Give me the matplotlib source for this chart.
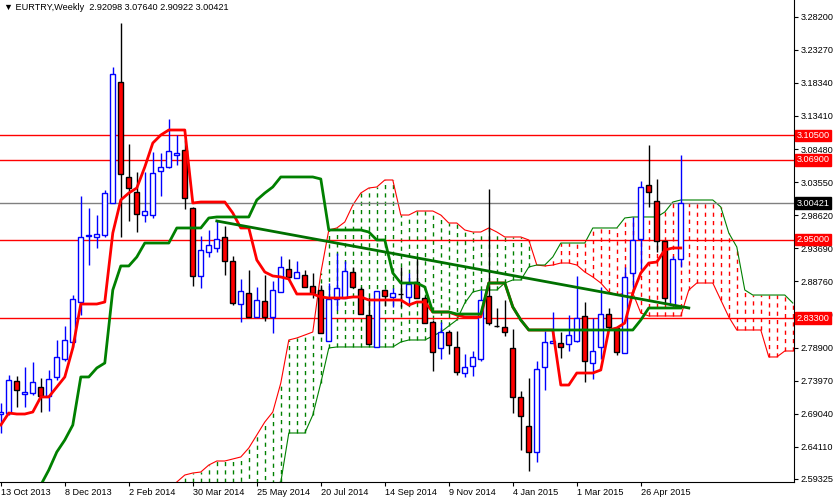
import matplotlib
matplotlib.use("Agg")
import matplotlib.pyplot as plt
import numpy as np

plt.rcParams['font.family'] = ['Liberation Sans', 'DejaVu Sans']

dates = ["13 Oct 2013", "8 Dec 2013", "2 Feb 2014", "30 Mar 2014", "25 May 2014", "20 Jul 2014",
         "14 Sep 2014", "9 Nov 2014", "4 Jan 2015", "1 Mar 2015", "26 Apr 2015"]
yticks = [3.28200, 3.23270, 3.18340, 3.13410, 3.08480, 3.03550, 2.98620, 2.93690, 2.88760,
          2.83830, 2.78900, 2.73970, 2.69040, 2.64110, 2.59325]

opens = [2.6900,2.6915,2.7392,2.7198,2.7213,2.7303,2.7169,2.7452,2.7720,2.7973,2.8569,2.9553,2.9538,2.9567,3.0044,3.1847,3.0432,3.0208,2.9865,2.9865,3.0521,3.0581,3.0759,3.0834,2.9970,2.8957,2.9314,2.9374,2.9538,2.9180,2.8539,2.8703,2.8346,2.8584,2.8346,2.8718,2.9061,2.8927,2.8971,2.8808,2.8748,2.7988,2.8614,2.8629,2.9016,2.8763,2.8375,2.7899,2.8748,2.8644,2.8688,2.8644,2.8867,2.8629,2.8271,2.7884,2.8122,2.7899,2.7511,2.7615,2.7720,2.8659,2.8212,2.8197,2.7884,2.7154,2.6722,2.6334,2.7601,2.7958,2.7958,2.7943,2.7988,2.8361,2.7660,2.7899,2.8390,2.8182,2.7809,2.9001,2.9508,3.0312,3.0074,2.9478,2.8524,2.92098]
highs = [2.7064,2.7481,2.7467,2.7601,2.7675,2.7437,2.7556,2.8003,2.8212,2.8673,3.0149,2.9970,2.9865,3.0238,3.2071,3.2726,3.0923,3.0506,3.0506,3.0804,3.0789,3.1296,3.1057,3.0983,2.9985,2.9553,2.9642,2.9791,2.9702,2.9255,2.8912,2.9046,2.8793,2.8971,2.8882,2.9255,2.9210,2.9180,2.9046,2.9001,2.8822,2.8852,2.9299,2.9180,2.9091,2.8793,2.8644,2.8733,2.8763,2.8778,2.9091,2.9001,2.9225,2.8659,2.8301,2.8271,2.8152,2.8137,2.7794,2.7839,2.8748,3.0253,2.8480,2.8599,2.8167,2.7243,2.7437,2.7690,2.8137,2.8420,2.8122,2.8375,2.8957,2.8569,2.8331,2.8793,2.8480,2.8182,2.9091,2.9836,3.0372,3.0908,3.0402,2.9478,2.9255,3.07640]
lows = [2.6617,2.6885,2.7005,2.7005,2.7183,2.6930,2.6945,2.7407,2.7690,2.7899,2.8375,2.9120,2.9374,2.9538,3.0044,2.9538,2.9776,2.9612,2.9761,2.9821,3.0149,3.0566,3.0610,2.9955,2.8808,2.8778,2.9240,2.9314,2.8971,2.8524,2.8271,2.8346,2.8346,2.8286,2.8107,2.8718,2.8897,2.8927,2.8793,2.8629,2.8107,2.7988,2.8450,2.8629,2.8778,2.8390,2.7943,2.7899,2.8510,2.8495,2.8495,2.8554,2.8629,2.8256,2.7541,2.7720,2.7794,2.7481,2.7452,2.7467,2.7690,2.8226,2.8197,2.8063,2.6915,2.6364,2.6051,2.6185,2.7258,2.7958,2.7735,2.7839,2.7973,2.7377,2.7422,2.7720,2.8152,2.7779,2.7809,2.8703,2.9061,2.9985,2.9314,2.8539,2.8524,2.90922]
closes = [2.6930,2.7407,2.7258,2.7228,2.7377,2.7169,2.7422,2.7750,2.8003,2.8614,2.9538,2.9567,2.9582,3.0193,3.1966,3.0476,3.0268,2.9880,2.9925,3.0491,3.0581,3.0819,3.0789,3.0119,2.8957,2.9344,2.9418,2.9508,2.9180,2.8554,2.8733,2.8346,2.8599,2.8346,2.8748,2.9091,2.8942,2.9016,2.8793,2.8703,2.8107,2.8614,2.8778,2.9031,2.8793,2.8390,2.7943,2.8733,2.8659,2.8703,2.8688,2.8837,2.8629,2.8256,2.7824,2.8122,2.7928,2.7526,2.7601,2.7750,2.8599,2.8256,2.8212,2.8122,2.7154,2.6871,2.6334,2.7571,2.7973,2.7988,2.7899,2.8077,2.8331,2.7690,2.7839,2.8390,2.8197,2.7824,2.8942,2.9493,3.0283,3.0208,2.9478,2.8629,2.92098,3.00421]

tenkan = [2.6736,2.6915,2.6900,2.6900,2.6930,2.7154,2.7154,2.7303,2.7452,2.7884,2.8539,2.8539,2.8539,2.8569,2.9597,3.0089,3.0193,3.0268,3.0581,3.0938,3.1057,3.1132,3.1132,3.1132,3.0044,3.0059,3.0059,3.0059,3.0059,2.9895,2.9672,2.9672,2.9195,2.9016,2.8957,2.8942,2.8912,2.8688,2.8688,2.8688,2.8644,2.8629,2.8629,2.8629,2.8644,2.8644,2.8599,2.8599,2.8599,2.8599,2.8599,2.8524,2.8569,2.8569,2.8420,2.8420,2.8420,2.8375,2.8346,2.8346,2.8346,2.8852,2.8852,2.8852,2.8495,2.8301,2.8152,2.8152,2.8152,2.8152,2.7332,2.7332,2.7511,2.7511,2.7511,2.7556,2.8152,2.8182,2.8256,2.8703,2.9001,2.9150,2.9165,2.9344,2.9374,2.9374]
kijun = [2.50,2.52,2.54,2.56,2.575,2.5842,2.6066,2.6334,2.6513,2.6736,2.7452,2.7452,2.7586,2.7660,2.8748,2.9106,2.9106,2.9240,2.9448,2.9448,2.9448,2.9448,2.9672,2.9672,2.9672,2.9672,2.9821,2.9836,2.9836,2.9836,2.9836,2.9836,3.0089,3.0193,3.0283,3.0432,3.0432,3.0432,3.0432,3.0432,3.0402,2.9642,2.9642,2.9642,2.9642,2.9642,2.9612,2.9493,2.9493,2.9001,2.8852,2.8852,2.8852,2.8793,2.8420,2.8420,2.8420,2.8390,2.8390,2.8390,2.8390,2.8852,2.8852,2.8852,2.8495,2.8301,2.8152,2.8152,2.8152,2.8152,2.8152,2.8152,2.8152,2.8152,2.8152,2.8152,2.8152,2.8152,2.8152,2.8152,2.8301,2.8480,2.8480,2.8480,2.8480,2.8480]

cloud_start = 22
span_b = [2.5887,2.5991,2.6021,2.6036,2.6140,2.6200,2.6200,2.6230,2.6260,2.6394,2.6587,2.6781,2.6930,2.7362,2.8003,2.8033,2.8077,2.8122,2.9001,2.9642,2.9672,2.9761,3.0014,3.0193,3.0268,3.0283,3.0387,3.0387,2.9865,2.9865,2.9925,2.9925,2.9925,2.9865,2.9746,2.9746,2.9642,2.9612,2.9612,2.9672,2.9612,2.9538,2.9538,2.9538,2.9493,2.9120,2.9106,2.9120,2.9150,2.9150,2.9120,2.9016,2.8942,2.8852,2.8718,2.8673,2.8703,2.8703,2.8405,2.8361,2.8361,2.8361,2.8361,2.8361,2.8748,2.8852,2.8852,2.8852,2.8599,2.8346,2.8152,2.8152,2.8152,2.8152,2.7750,2.7750,2.7839,2.7839]
span_a = [2.50,2.51,2.52,2.53,2.54,2.55,2.555,2.56,2.565,2.57,2.575,2.58,2.585,2.5887,2.6617,2.6617,2.6617,2.6885,2.7362,2.7884,2.7899,2.7899,2.7899,2.7899,2.7899,2.7899,2.7899,2.7899,2.7973,2.8003,2.8003,2.8003,2.8063,2.8122,2.8212,2.8301,2.8554,2.8718,2.8748,2.8748,2.8748,2.8852,2.8897,2.8897,2.9091,2.9120,2.9120,2.9240,2.9448,2.9448,2.9448,2.9448,2.9672,2.9672,2.9672,2.9672,2.9821,2.9836,2.9836,2.9836,2.9836,2.9910,3.0059,3.0089,3.0089,3.0089,3.0089,3.0089,2.9985,2.9597,2.9389,2.8748,2.8673,2.8673,2.8673,2.8673,2.8673,2.8554]

trend_x = [27, 86]
trend_y = [2.9776, 2.8480]
red_levels = [3.105, 3.069, 2.950, 2.833]
current = 3.00421

fig = plt.figure(figsize=(8.37, 4.98), dpi=100)
ax = fig.add_axes([0, 16/498, 794/837, 482/498])
ax.set_xlim(-0.1, 99.15)
ax.set_ylim(2.5887, 3.3069)

ci = np.arange(cloud_start, cloud_start + len(span_b))
sa = np.array(span_a); sb = np.array(span_b)
for x, a, b in zip(ci, sa, sb):
    col = "#008000" if b > a else "#ff0000"
    ax.vlines(x, min(a, b), max(a, b), colors=col, linestyles=(0, (3, 3)), lw=1, zorder=1)
ax.plot(ci, sb, color="#ff0000", lw=0.8, zorder=2)
ax.plot(ci, sa, color="#008000", lw=0.8, zorder=2)

for lv in red_levels:
    ax.axhline(lv, color="#ff0000", lw=1, zorder=2)
ax.axhline(current, color="#808080", lw=1, zorder=2)

w = 0.6
for i, (o, h, l, c) in enumerate(zip(opens, highs, lows, closes)):
    if c > o:
        ax.vlines(i, l, h, colors="#0000ff", lw=1, zorder=3)
        ax.add_patch(plt.Rectangle((i - w/2, o), w, c - o, facecolor="white", edgecolor="#0000ff", lw=1, zorder=4))
    elif c < o:
        ax.vlines(i, l, h, colors="black", lw=1, zorder=3)
        ax.add_patch(plt.Rectangle((i - w/2, c), w, o - c, facecolor="#ff0000", edgecolor="black", lw=1, zorder=4))
    else:
        ax.vlines(i, l, h, colors="black", lw=1, zorder=3)
        ax.hlines(o, i - w/2, i + w/2, colors="black", lw=1, zorder=4)

xi = np.arange(len(tenkan))
ax.plot(xi, tenkan, color="#ff0000", lw=2, zorder=5)
ax.plot(xi, kijun, color="#008000", lw=2, zorder=5)
ax.plot(trend_x, trend_y, color="#007000", lw=2, zorder=5)

fs = 6.6
ax.yaxis.tick_right()
ax.set_yticks(yticks)
ax.set_yticklabels([f"{v:.5f}" for v in yticks], fontsize=fs)
ax.set_xticks(np.arange(0, 8 * len(dates), 8))
ax.set_xticklabels(dates, fontsize=fs, ha="left")
ax.tick_params(axis="both", length=3, pad=1.5, color="black")
for s in ["top", "left"]:
    ax.spines[s].set_visible(False)

for lv, fc in [(v, "#ff0000") for v in red_levels] + [(current, "black")]:
    ax.annotate(f"{lv:.5f}", xy=(1.0, lv), xycoords=("axes fraction", "data"), xytext=(2, 0),
                textcoords="offset points", va="center", ha="left", fontsize=fs, color="white",
                bbox=dict(boxstyle="square,pad=0.15", fc=fc, ec=fc), zorder=10,
                annotation_clip=False)

fig.text(4/837, 1 - 8/498, "▼ EURTRY,Weekly  2.92098 3.07640 2.90922 3.00421", fontsize=fs,
         va="center", ha="left")

fig.savefig("out.png", dpi=100)
